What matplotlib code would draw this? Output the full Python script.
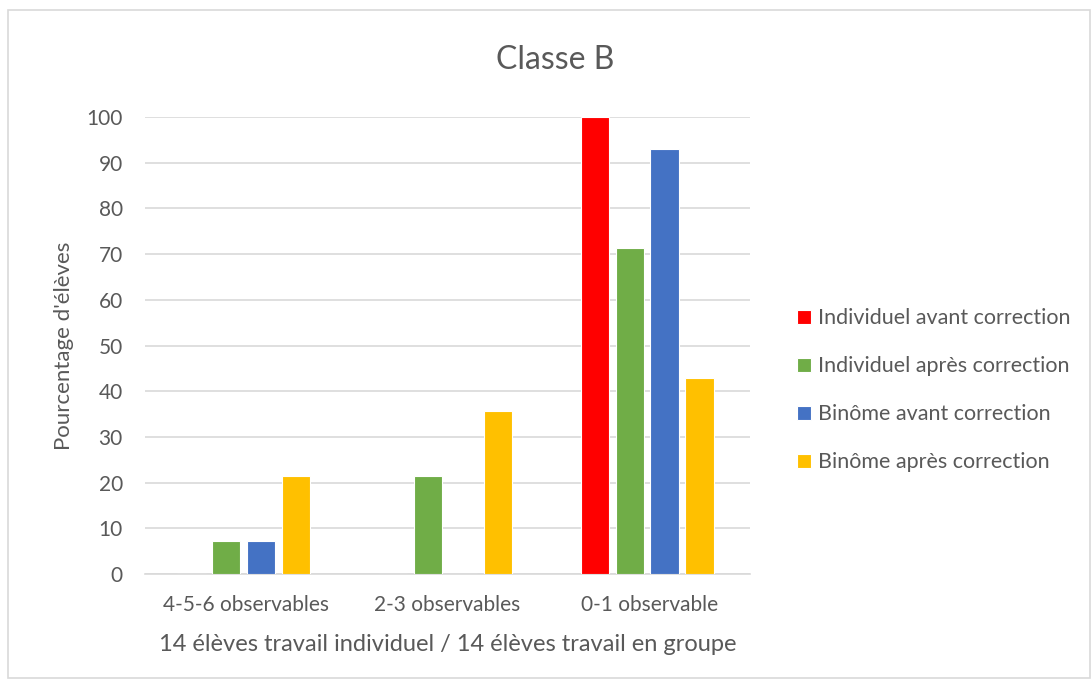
import numpy as np
import matplotlib
matplotlib.use("Agg")
import matplotlib.pyplot as plt
from matplotlib.patches import Rectangle

plt.rcParams["font.family"] = ["Lato", "DejaVu Sans"]

categories = ["4-5-6 observables", "2-3 observables", "0-1 observable"]
series_names = [
    "Individuel avant correction",
    "Individuel après correction",
    "Binôme avant correction",
    "Binôme après correction",
]
indiv_avant = [0, 0, 100]
indiv_apres = [7.14, 21.4, 71.4]
binome_avant = [7.14, 0, 92.9]
binome_apres = [21.4, 35.7, 42.9]
colors = ["#ff0000", "#70ad47", "#4472c4", "#ffc000"]

TEXT = "#595959"
GRID = "#d9d9d9"

fig = plt.figure(figsize=(10.91, 6.86), dpi=100)
fig.patches.append(Rectangle((8 / 1091, 1 - 678 / 686), 1082 / 1091, 668 / 686,
                             transform=fig.transFigure, fill=False,
                             edgecolor=GRID, linewidth=1.2))

ax = fig.add_axes([145 / 1091, 1 - 574 / 686, 605 / 1091, 457 / 686])
x = np.arange(len(categories))
width = 0.14
step = 0.173
all_series = [indiv_avant, indiv_apres, binome_avant, binome_apres]
for i, (vals, name, c) in enumerate(zip(all_series, series_names, colors)):
    ax.bar(x + (i - 1.5) * step - 0.01, vals, width, color=c, label=name,
           edgecolor="white", linewidth=0.8, zorder=3)

ax.set_xlim(-0.5, 2.5)
ax.set_ylim(0, 100)
ax.set_yticks(range(0, 101, 10))
ax.set_xticks(x)
ax.set_xticklabels(categories)
ax.tick_params(axis="both", length=0, colors=TEXT, labelsize=15)
ax.tick_params(axis="x", pad=15)
ax.tick_params(axis="y", pad=16)
ax.grid(axis="y", color=GRID, linewidth=1.2, zorder=0)
for s in ["top", "right", "left"]:
    ax.spines[s].set_visible(False)
ax.spines["bottom"].set_color(GRID)
ax.spines["bottom"].set_linewidth(1.2)

ax.set_xlabel("14 élèves travail individuel / 14 élèves travail en groupe",
              color=TEXT, fontsize=17, labelpad=14)
ax.set_ylabel("Pourcentage d'élèves", color=TEXT, fontsize=16, labelpad=9)
fig.text(555 / 1091, 1 - 60 / 686, "Classe B", ha="center", va="center",
         color=TEXT, fontsize=23)

leg = fig.legend(loc="upper left", bbox_to_anchor=(778 / 1091, 1 - 289 / 686),
                 frameon=False, fontsize=15.5, labelcolor=TEXT,
                 handlelength=0.65, handleheight=0.65, handletextpad=0.3,
                 labelspacing=1.3)

fig.savefig("out.png", dpi=100)
